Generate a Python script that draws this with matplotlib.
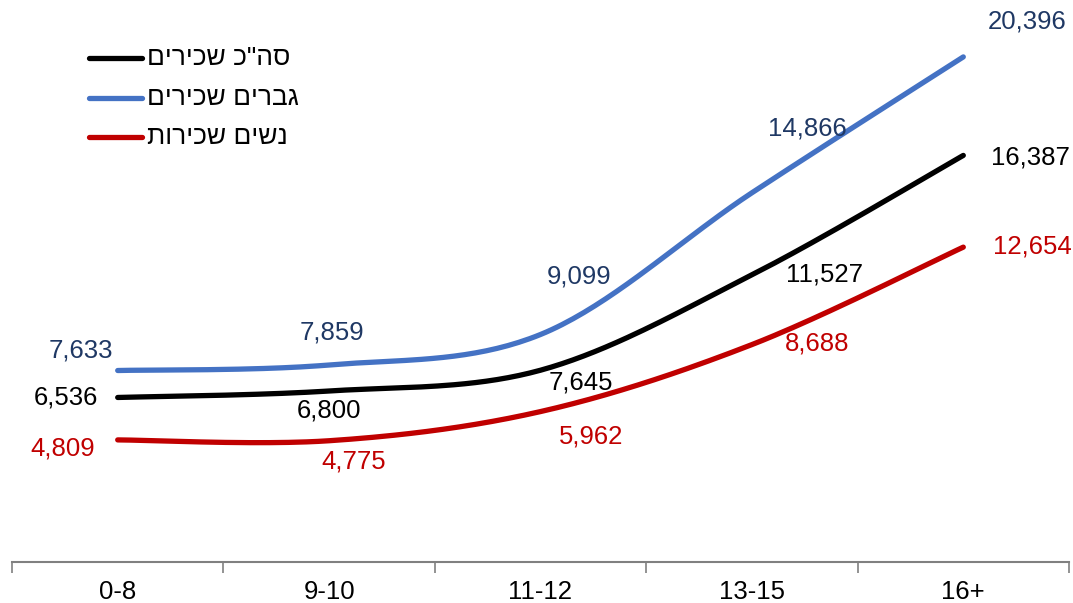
import matplotlib.pyplot as plt
import numpy as np

plt.rcParams['font.family'] = ['Liberation Sans', 'DejaVu Sans']

categories = ['0-8', '9-10', '11-12', '13-15', '16+']
total = [6536, 6800, 7645, 11527, 16387]
men = [7633, 7859, 9099, 14866, 20396]
women = [4809, 4775, 5962, 8688, 12654]

# hebrew names, matplotlib has no bidi so reverse for display
names = ['סה"כ שכירים', 'גברים שכירים', 'נשים שכירות']
colors = ['#000000', '#4472C4', '#C00000']
label_colors = ['#000000', '#1F3864', '#C00000']

# label offsets in pixels (dx, dy) per point
offs_total = [(-52, 0), (0, -20), (40, -12), (73, 0), (67, -2)]
offs_men = [(-37, 20), (3, 32), (39, 58), (55, 64), (64, 35)]
offs_women = [(-55, -9), (25, -21), (51, -25), (65, 1), (69, 1)]


def smooth(y, n=40):
    # catmull-rom, like excel smoothed line
    x = np.arange(len(y), dtype=float)
    y = np.asarray(y, dtype=float)
    px = np.concatenate([[x[0]], x, [x[-1]]])
    py = np.concatenate([[y[0]], y, [y[-1]]])
    xs, ys = [], []
    for i in range(1, len(px) - 2):
        p0, p1, p2, p3 = (px[i-1], py[i-1]), (px[i], py[i]), (px[i+1], py[i+1]), (px[i+2], py[i+2])
        c1 = (p1[0] + (p2[0] - p0[0]) / 6, p1[1] + (p2[1] - p0[1]) / 6)
        c2 = (p2[0] - (p3[0] - p1[0]) / 6, p2[1] - (p3[1] - p1[1]) / 6)
        t = np.linspace(0, 1, n)
        bx = (1-t)**3*p1[0] + 3*(1-t)**2*t*c1[0] + 3*(1-t)*t**2*c2[0] + t**3*p2[0]
        by = (1-t)**3*p1[1] + 3*(1-t)**2*t*c1[1] + 3*(1-t)*t**2*c2[1] + t**3*p2[1]
        xs.extend(bx)
        ys.extend(by)
    return np.array(xs), np.array(ys)


fig = plt.figure(figsize=(10.73, 6.03), dpi=100)
ax = fig.add_axes([12/1073, 41/603, (1069-12)/1073, (562-17.5)/603])

series = [total, men, women]
offsets = [offs_total, offs_men, offs_women]
for vals, c, lc, offs in zip(series, colors, label_colors, offsets):
    sx, sy = smooth(vals)
    ax.plot(sx, sy, color=c, lw=3.8, solid_capstyle='round')
    for i, v in enumerate(vals):
        dx, dy = offs[i]
        ax.annotate(f'{v:,}', (i, v), xytext=(dx, dy), textcoords='offset pixels',
                    ha='center', va='center', fontsize=18.5, color=lc)

ax.set_xlim(-0.5, 4.5)
ax.set_ylim(-160, 22000)
ax.set_yticks([])
for s in ['top', 'right', 'left']:
    ax.spines[s].set_visible(False)
ax.spines['bottom'].set_color('#808080')
ax.spines['bottom'].set_linewidth(1.5)
ax.set_xticks(np.arange(-0.5, 5, 1))
ax.set_xticklabels([])
ax.tick_params(axis='x', which='major', length=8, width=1.2, color='#808080')
ax.set_xticks(range(len(categories)), minor=True)
ax.set_xticklabels(categories, minor=True, fontsize=18.5)
ax.tick_params(axis='x', which='minor', length=0, pad=13)

# legend drawn by hand
leg_y = [58, 98, 137]
for name, c, yy in zip(names, colors, leg_y):
    fy = 1 - yy/603
    fig.add_artist(plt.Line2D([89/1073, 142/1073], [fy, fy], color=c, lw=3.8,
                              solid_capstyle='round', transform=fig.transFigure))
    fig.text(147/1073, fy, name[::-1], ha='left', va='center', fontsize=19)

fig.savefig('out.png', dpi=100)
